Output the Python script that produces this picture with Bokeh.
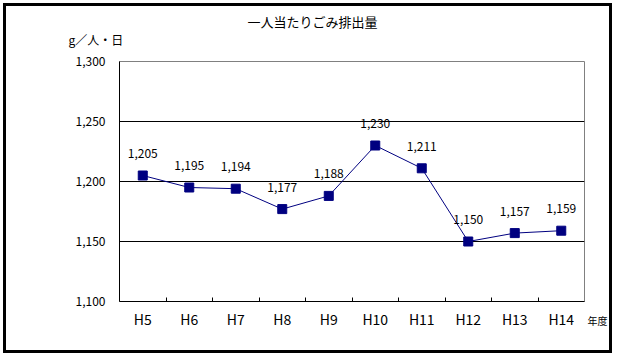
from bokeh.plotting import figure
from bokeh.models import (Range1d, FixedTicker, NumeralTickFormatter, Title,
                          ColumnDataSource)
from bokeh.embed import file_html
from bokeh.resources import INLINE
from bokeh.core.properties import value

# ---- data ----
years = ["H5", "H6", "H7", "H8", "H9", "H10", "H11", "H12", "H13", "H14"]
amounts = [1205, 1195, 1194, 1177, 1188, 1230, 1211, 1150, 1157, 1159]
y_ticks = [1100, 1150, 1200, 1250, 1300]
title_text = "一人当たりごみ排出量"
unit_text = "g／人・日"
x_unit_text = "年度"

FONT = "Noto Sans CJK JP"
NAVY = "#000080"

xs = [i + 0.5 for i in range(len(years))]
labels = ["{:,}".format(v) for v in amounts]
src = ColumnDataSource(dict(x=xs, y=amounts, label=labels))

p = figure(width=609, height=350, output_backend="svg", toolbar_location=None,
           x_range=Range1d(0, len(years)), y_range=Range1d(1100, 1300),
           min_border_left=113, min_border_right=31,
           min_border_top=55, min_border_bottom=55)
p.outline_line_color = "#808080"
p.outline_line_width = 1
p.styles = {"border": "3px solid black", "margin": "3px"}

# x axis: labels at centers, small inside ticks at category boundaries
p.xaxis.ticker = FixedTicker(ticks=xs, minor_ticks=list(range(1, len(years))))
p.xaxis.major_label_overrides = {x: t for x, t in zip(xs, years)}
p.xaxis.major_tick_line_color = None
p.xaxis.major_tick_out = 0
p.xaxis.major_tick_in = 0
p.xaxis.minor_tick_in = 4
p.xaxis.minor_tick_out = 0
p.xaxis.minor_tick_line_color = "black"
p.xaxis.axis_line_color = "black"
p.xaxis.major_label_text_font = FONT
p.xaxis.major_label_text_font_size = "14px"
p.xaxis.major_label_text_color = "black"
p.xaxis.major_label_standoff = 7

# y axis
p.yaxis.ticker = FixedTicker(ticks=y_ticks)
p.yaxis.formatter = NumeralTickFormatter(format="0,0")
p.yaxis.major_tick_line_color = None
p.yaxis.major_tick_out = 0
p.yaxis.major_tick_in = 0
p.yaxis.minor_tick_line_color = None
p.yaxis.axis_line_color = "black"
p.yaxis.major_label_text_font = FONT
p.yaxis.major_label_text_font_size = "12px"
p.yaxis.major_label_text_color = "black"
p.yaxis.major_label_standoff = 14

p.xgrid.grid_line_color = None
p.ygrid.ticker = FixedTicker(ticks=y_ticks[1:-1])
p.ygrid.grid_line_color = "black"
p.ygrid.grid_line_width = 1

p.line("x", "y", source=src, line_color=NAVY, line_width=1)
p.scatter("x", "y", source=src, marker="square", size=9,
          fill_color=NAVY, line_color=NAVY)
p.text("x", "y", text="label", source=src, y_offset=-22,
       text_align="center", text_baseline="middle",
       text_font=value(FONT), text_font_size="12px", text_color="black")

# texts outside the frame, as titles in the side panels
p.add_layout(Title(text=unit_text, align="left", offset=-51, standoff=28,
                   text_font=FONT, text_font_size="12px",
                   text_font_style="normal", text_color="black"), "above")
p.add_layout(Title(text=title_text, align="left", offset=128, standoff=-32,
                   text_font=FONT, text_font_size="13px",
                   text_font_style="normal", text_color="black"), "above")
p.add_layout(Title(text=x_unit_text, align="right", offset=-23, standoff=-37,
                   vertical_align="top",
                   text_font=FONT, text_font_size="10px",
                   text_font_style="normal", text_color="black"), "below")

open("out.html", "w").write(file_html(p, INLINE))
